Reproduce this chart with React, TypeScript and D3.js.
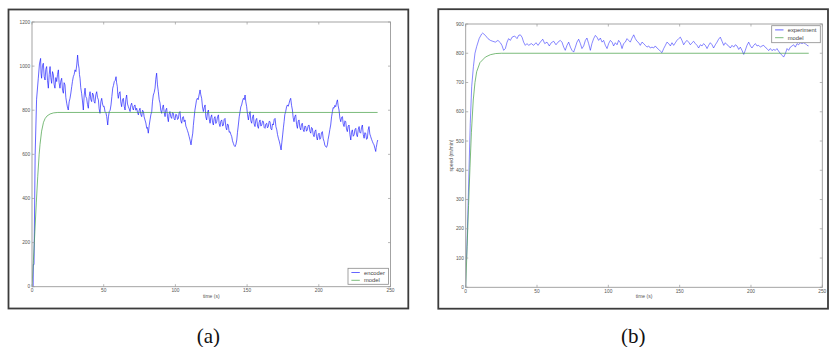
import React from "react";
import * as d3 from "d3";

// ---- data -------------------------------------------------------------

const TIME_TICKS = [0, 50, 100, 150, 200, 250];
const ENCODER_SPEED_TICKS = [0, 200, 400, 600, 800, 1000, 1200];
const EXPERIMENT_SPEED_TICKS = [0, 100, 200, 300, 400, 500, 600, 700, 800, 900];

// (a) encoder reading vs. time [s, speed]
const encoderSeries: [number, number][] = [
  [0, 0], [0.8, 0], [0.9, 100], [1.4, 100], [2.2, 600], [3.2, 850],
  [4.4, 945], [5.2, 1010], [6.0, 1035], [6.3, 968], [6.7, 945], [7.3, 1002], [7.9, 1013],
  [8.5, 952], [9.1, 937], [9.6, 985], [10.2, 998], [10.8, 935], [11.4, 900], [12.0, 962],
  [12.6, 998], [13.1, 948], [13.7, 922], [14.3, 975], [14.9, 960], [15.4, 918], [16.0, 900],
  [16.6, 948], [17.2, 930], [17.8, 962], [18.4, 983], [18.9, 925], [19.5, 900], [20.1, 932],
  [20.7, 945], [21.3, 890], [21.9, 877], [22.4, 925], [23.0, 915], [23.6, 858], [24.2, 832],
  [24.7, 815], [25.3, 801], [25.9, 838], [26.5, 854], [27.1, 878], [27.7, 907], [28.2, 930],
  [28.8, 952], [29.4, 962], [30.0, 983], [30.6, 975], [31.2, 1005], [31.8, 1050], [32.3, 1010],
  [32.8, 990], [33.1, 962], [33.5, 945], [34.0, 902], [34.6, 877], [35.2, 842], [35.8, 801],
  [36.4, 868], [37.0, 900], [37.5, 862], [38.1, 854], [38.7, 826], [39.3, 809], [39.9, 862],
  [40.5, 884], [41.0, 850], [41.6, 839], [42.2, 878], [42.8, 869], [43.3, 840], [43.9, 832],
  [44.5, 870], [45.1, 884], [45.7, 858], [46.3, 847], [46.8, 808], [47.4, 786], [48.0, 838],
  [48.6, 854], [49.2, 828], [49.8, 816], [50.3, 818], [50.9, 794], [51.5, 790], [52.1, 771],
  [52.4, 755], [52.8, 733], [53.3, 770], [53.9, 794], [54.5, 800], [55.1, 824], [55.7, 862],
  [56.3, 900], [56.8, 912], [57.4, 930], [58.0, 935], [58.6, 952], [59.0, 925], [59.5, 907],
  [59.8, 872], [60.2, 854], [60.8, 878], [61.4, 884], [61.9, 838], [62.5, 816], [63.1, 848],
  [63.7, 854], [64.3, 818], [64.9, 801], [65.4, 848], [66.0, 869], [66.6, 828], [67.2, 816],
  [67.8, 806], [68.4, 794], [68.9, 822], [69.5, 832], [70.1, 812], [70.7, 801], [71.2, 818],
  [71.8, 824], [72.4, 800], [73.0, 809], [73.6, 790], [74.2, 779], [74.7, 798], [75.3, 809],
  [75.9, 780], [76.5, 771], [77.1, 800], [77.7, 794], [78.2, 770], [78.8, 756], [79.4, 742],
  [80.0, 718], [80.5, 722], [81.1, 696], [81.7, 730], [82.3, 756], [82.9, 780], [83.5, 794],
  [84.0, 838], [84.6, 869], [85.2, 880], [85.8, 900], [86.3, 940], [86.9, 968], [87.5, 915],
  [88.1, 884], [88.7, 848], [89.3, 832], [89.8, 800], [90.4, 786], [91.0, 812], [91.6, 824],
  [92.2, 790], [92.8, 771], [93.3, 800], [93.9, 809], [94.5, 770], [95.1, 748], [95.6, 782],
  [96.2, 794], [96.8, 770], [97.4, 763], [98.0, 790], [98.6, 786], [99.1, 762], [99.7, 756],
  [100.3, 782], [100.9, 779], [101.5, 758], [102.1, 763], [102.6, 788], [103.2, 794], [103.8, 752],
  [104.4, 741], [105.0, 768], [105.6, 771], [106.1, 748], [106.7, 756], [107.3, 728], [107.9, 718],
  [108.4, 708], [109.0, 696], [109.6, 680], [110.2, 665], [110.9, 643], [111.5, 672], [112.1, 696],
  [112.5, 730], [113.0, 763], [113.6, 800], [114.2, 824], [114.7, 845], [115.3, 854], [115.9, 848],
  [116.5, 869], [117.2, 892], [117.7, 870], [118.3, 854], [118.9, 815], [119.5, 794], [120.1, 812],
  [120.7, 824], [121.2, 770], [121.8, 756], [122.4, 790], [123.0, 801], [123.6, 760], [124.2, 741],
  [124.7, 768], [125.3, 779], [125.9, 745], [126.5, 733], [127.0, 762], [127.6, 771], [128.2, 740],
  [128.8, 748], [129.4, 770], [130.0, 779], [130.5, 740], [131.1, 726], [131.7, 750], [132.3, 756],
  [132.9, 728], [133.5, 733], [134.0, 758], [134.6, 763], [135.2, 722], [135.8, 711], [136.3, 738],
  [136.9, 733], [137.5, 700], [138.1, 703], [138.7, 690], [139.3, 680], [139.8, 662], [140.4, 650],
  [141.0, 640], [141.6, 635], [142.2, 645], [142.8, 665], [143.3, 700], [143.9, 733], [144.5, 770],
  [145.1, 794], [145.6, 815], [146.2, 824], [146.8, 842], [147.4, 854], [148.0, 848], [148.6, 869],
  [149.1, 838], [149.7, 816], [150.3, 780], [150.9, 756], [151.5, 782], [152.1, 794], [152.6, 752],
  [153.2, 741], [153.8, 770], [154.4, 779], [154.9, 738], [155.5, 726], [156.1, 755], [156.7, 763],
  [157.3, 728], [157.9, 718], [158.4, 745], [159.0, 756], [159.6, 728], [160.2, 733], [160.8, 752],
  [161.4, 748], [161.9, 722], [162.5, 718], [163.1, 738], [163.7, 741], [164.2, 720], [164.8, 726],
  [165.4, 750], [166.0, 748], [166.6, 716], [167.2, 711], [167.7, 738], [168.3, 733], [168.9, 758],
  [169.5, 763], [170.1, 725], [170.7, 711], [171.2, 690], [171.8, 673], [172.4, 660], [173.0, 643],
  [173.7, 620], [174.2, 652], [174.8, 688], [175.3, 720], [175.8, 748], [176.3, 780], [176.9, 794],
  [177.5, 815], [178.1, 824], [178.7, 818], [179.3, 832], [179.8, 845], [180.4, 854], [181.0, 822],
  [181.6, 801], [182.1, 768], [182.7, 748], [183.3, 772], [183.9, 779], [184.5, 735], [185.1, 718],
  [185.6, 748], [186.2, 756], [186.8, 722], [187.4, 711], [187.9, 735], [188.5, 741], [189.1, 712],
  [189.7, 703], [190.3, 728], [190.9, 726], [191.4, 705], [192.0, 711], [192.6, 730], [193.2, 733],
  [193.8, 705], [194.4, 696], [194.9, 722], [195.5, 718], [196.1, 690], [196.7, 680], [197.3, 705],
  [197.9, 711], [198.4, 680], [199.0, 665], [199.6, 690], [200.2, 696], [200.7, 668], [201.3, 673],
  [201.9, 698], [202.5, 703], [203.1, 670], [203.7, 658], [204.2, 642], [204.8, 635], [205.4, 632],
  [206.0, 643], [206.5, 668], [207.1, 688], [207.7, 712], [208.3, 733], [208.9, 770], [209.5, 794],
  [210.0, 812], [210.6, 809], [211.2, 822], [211.8, 816], [212.4, 835], [213.0, 847], [213.5, 820],
  [214.1, 801], [214.7, 765], [215.3, 748], [215.9, 768], [216.5, 771], [217.0, 738], [217.6, 726],
  [218.2, 752], [218.8, 748], [219.3, 715], [219.9, 703], [220.5, 728], [221.1, 733], [221.7, 690],
  [222.3, 665], [222.8, 700], [223.4, 711], [224.0, 682], [224.6, 688], [225.2, 712], [225.8, 718],
  [226.3, 690], [226.9, 680], [227.5, 712], [228.1, 726], [228.6, 700], [229.2, 696], [229.8, 722],
  [230.4, 733], [231.0, 690], [231.6, 673], [232.1, 698], [232.7, 696], [233.3, 668], [233.9, 673],
  [234.4, 710], [235.0, 726], [235.6, 692], [236.2, 680], [236.8, 668], [237.4, 658], [237.9, 650],
  [238.5, 643], [239.1, 628], [239.7, 613], [240.0, 630], [240.4, 643], [240.7, 655], [241.1, 665],
];

// (a) model response
const modelSeriesA: [number, number][] = [
  [0, 0], [1, 120], [2, 250], [3, 380], [4, 500], [5, 600], [5.6, 645], [6.7, 705],
  [8, 745], [9.1, 762], [10.5, 774], [12.6, 783], [15, 788], [18, 790], [241, 790],
];

// (b) measured speed [s, m/min]
const experimentSeries: [number, number][] = [
  [0, 0], [0.1, 90], [0.6, 100], [1.5, 250], [2.5, 435], [3.2, 560], [4.2, 686],
  [5.4, 754], [6.5, 800], [7.7, 823], [9.5, 851], [11.2, 866], [11.9, 869],
  [13.8, 861], [15.6, 850], [17.3, 844], [18.9, 841], [20.8, 838], [22.6, 844],
  [24.3, 836], [25.4, 827], [26.6, 810], [27.8, 816], [29.0, 838], [30.1, 850],
  [31.3, 844], [32.5, 855], [34.3, 859], [36.0, 850], [37.1, 861], [38.3, 863],
  [39.5, 855], [40.6, 838], [41.8, 827], [43.0, 833], [44.1, 827], [46.0, 833],
  [47.6, 827], [49.3, 836], [50.7, 827], [52.3, 838], [54.0, 848], [55.4, 833],
  [57.0, 838], [58.6, 825], [60.0, 836], [61.7, 841], [63.3, 829], [64.7, 838],
  [66.3, 844], [67.5, 838], [68.7, 821], [69.8, 810], [71.0, 827], [72.2, 838],
  [73.4, 821], [74.5, 810], [75.7, 804], [76.9, 821], [78.0, 838], [79.2, 848],
  [80.4, 833], [81.5, 816], [82.7, 825], [83.9, 844], [85.0, 852], [86.2, 833],
  [87.4, 810], [88.5, 833], [89.7, 850], [90.9, 861], [92.0, 855], [93.2, 844],
  [94.4, 852], [95.6, 838], [96.7, 844], [97.9, 827], [99.1, 816], [100.2, 833],
  [101.4, 844], [102.6, 838], [103.7, 825], [104.9, 836], [106.1, 829], [107.2, 844],
  [108.4, 836], [109.6, 816], [110.7, 833], [111.9, 838], [113.1, 850], [114.2, 844],
  [115.4, 838], [116.6, 852], [117.8, 863], [118.9, 850], [120.1, 841], [121.3, 836],
  [122.4, 827], [123.6, 838], [124.8, 833], [125.9, 827], [127.1, 821], [128.3, 825],
  [129.4, 818], [130.6, 821], [131.8, 818], [132.9, 825], [134.1, 818], [135.3, 813],
  [136.5, 807], [137.6, 802], [138.8, 816], [140.0, 827], [141.1, 838], [142.3, 833],
  [143.5, 825], [144.6, 836], [145.8, 827], [147.0, 836], [148.1, 844], [149.3, 850],
  [150.5, 855], [151.6, 844], [152.8, 829], [154.0, 838], [155.1, 844], [156.3, 838],
  [157.5, 829], [158.7, 836], [159.8, 841], [161.0, 833], [162.2, 827], [163.3, 818],
  [164.5, 829], [165.7, 825], [166.8, 833], [168.0, 827], [169.2, 816], [170.3, 827],
  [171.5, 836], [172.7, 829], [173.8, 818], [175.0, 829], [176.2, 838], [177.3, 848],
  [178.5, 855], [179.7, 841], [180.9, 827], [182.0, 836], [183.2, 829], [184.4, 825],
  [185.5, 818], [186.7, 827], [187.9, 821], [189.0, 829], [190.2, 825], [191.4, 813],
  [192.5, 821], [193.7, 810], [194.9, 796], [196.0, 810], [197.2, 827], [198.4, 838],
  [199.6, 825], [200.7, 818], [201.9, 827], [203.1, 833], [204.2, 825], [205.4, 827],
  [206.6, 821], [207.7, 825], [208.9, 827], [210.1, 820], [211.2, 816], [212.4, 809],
  [213.6, 816], [214.7, 809], [215.9, 813], [217.1, 810], [218.2, 816], [219.4, 807],
  [220.6, 799], [221.8, 793], [222.9, 787], [224.1, 799], [225.3, 816], [226.4, 810],
  [227.6, 821], [228.8, 825], [229.9, 829], [231.1, 821], [232.3, 833], [233.4, 829],
  [234.6, 836], [235.8, 833], [236.9, 836], [238.1, 833], [239.3, 827], [240.4, 825],
];

// (b) model response
const modelSeriesB: [number, number][] = [
  [0, 0], [1, 140], [2, 280], [3, 410], [4, 530], [5.3, 640], [6.5, 700], [7.7, 737],
  [10, 768], [13.8, 787], [17.3, 795], [21, 799], [25, 800], [240.5, 800],
];

// ---- drawing ----------------------------------------------------------

const BLUE = "#1a1aff";
const GREEN = "#3a9a3a";
const SANS = "'Liberation Sans', Arial, sans-serif";

type Box = { x0: number; y0: number; x1: number; y1: number };
type Series = { data: [number, number][]; color: string; width: number; opacity: number; label: string };

function Panel(props: {
  id: string;
  frame: Box;
  plot: Box;
  yMax: number;
  yTicks: number[];
  series: Series[];
  legend: { x: number; y: number; w: number; h: number };
  yLabel?: string;
  caption: string;
}) {
  const { id, frame, plot, yMax, yTicks, series, legend, yLabel, caption } = props;
  const x = d3.scaleLinear().domain([0, 250]).range([plot.x0, plot.x1]);
  const y = d3.scaleLinear().domain([0, yMax]).range([plot.y1, plot.y0]);
  const line = d3
    .line<[number, number]>()
    .x((d) => x(d[0]))
    .y((d) => y(d[1]));
  const tk = 2.5;
  const axisColor = "#9a9a9a";
  const textColor = "#555";
  const cx = (plot.x0 + plot.x1) / 2;
  const cy = (plot.y0 + plot.y1) / 2;

  return (
    <g>
      <rect
        x={frame.x0}
        y={frame.y0}
        width={frame.x1 - frame.x0}
        height={frame.y1 - frame.y0}
        fill="#fff"
        stroke="#3c3c3c"
        strokeWidth={1.8}
      />
      <clipPath id={`clip-${id}`}>
        <rect x={plot.x0} y={plot.y0} width={plot.x1 - plot.x0} height={plot.y1 - plot.y0} />
      </clipPath>
      <g clipPath={`url(#clip-${id})`}>
        {series.map((s) => (
          <path
            key={s.label}
            d={line(s.data) || ""}
            fill="none"
            stroke={s.color}
            strokeWidth={s.width}
            strokeOpacity={s.opacity}
            strokeLinejoin="round"
          />
        ))}
      </g>
      <rect
        x={plot.x0}
        y={plot.y0}
        width={plot.x1 - plot.x0}
        height={plot.y1 - plot.y0}
        fill="none"
        stroke={axisColor}
        strokeWidth={0.9}
      />
      {TIME_TICKS.map((t) => (
        <g key={`xt${t}`}>
          <line x1={x(t)} x2={x(t)} y1={plot.y1} y2={plot.y1 - tk} stroke={axisColor} strokeWidth={0.7} />
          <line x1={x(t)} x2={x(t)} y1={plot.y0} y2={plot.y0 + tk} stroke={axisColor} strokeWidth={0.7} />
          <text x={x(t)} y={plot.y1 + 5.6} fontSize={4.8} fill={textColor} textAnchor="middle" fontFamily={SANS}>
            {t}
          </text>
        </g>
      ))}
      {yTicks.map((v) => (
        <g key={`yt${v}`}>
          <line x1={plot.x0} x2={plot.x0 + tk} y1={y(v)} y2={y(v)} stroke={axisColor} strokeWidth={0.7} />
          <line x1={plot.x1} x2={plot.x1 - tk} y1={y(v)} y2={y(v)} stroke={axisColor} strokeWidth={0.7} />
          <text
            x={plot.x0 - 1.8}
            y={y(v) + 1.7}
            fontSize={4.8}
            fill={textColor}
            textAnchor="end"
            fontFamily={SANS}
          >
            {v}
          </text>
        </g>
      ))}
      <text x={cx} y={plot.y1 + 10.8} fontSize={5} fill={textColor} textAnchor="middle" fontFamily={SANS}>
        time (s)
      </text>
      {yLabel && (
        <text
          transform={`translate(${plot.x0 - 12.5},${cy}) rotate(-90)`}
          fontSize={5}
          fill={textColor}
          textAnchor="middle"
          fontFamily={SANS}
        >
          {yLabel}
        </text>
      )}
      <rect
        x={legend.x}
        y={legend.y}
        width={legend.w}
        height={legend.h}
        fill="#fff"
        stroke="#8a8a8a"
        strokeWidth={0.8}
      />
      {series.map((s, i) => {
        const ly = legend.y + 4.2 + i * 7.8;
        return (
          <g key={`lg${s.label}`}>
            <line
              x1={legend.x + 3.4}
              x2={legend.x + 11.8}
              y1={ly}
              y2={ly}
              stroke={s.color}
              strokeWidth={0.9}
              strokeOpacity={0.75}
            />
            <text x={legend.x + 16} y={ly + 2} fontSize={5.8} fill="#444" fontFamily={SANS}>
              {s.label}
            </text>
          </g>
        );
      })}
      <text
        x={(frame.x0 + frame.x1) / 2}
        y={343}
        fontSize={21}
        fill="#111"
        textAnchor="middle"
        fontFamily="'Liberation Serif', 'DejaVu Serif', serif"
      >
        {caption}
      </text>
    </g>
  );
}

export default function App() {
  return (
    <svg
      width={829}
      height={347}
      viewBox="0 0 829 347"
      style={{ position: "absolute", left: 0, top: 0, background: "#fff" }}
    >
      <rect x={0} y={0} width={829} height={347} fill="#fff" />
      <Panel
        id="a"
        frame={{ x0: 8.5, y0: 9.5, x1: 408.3, y1: 308.5 }}
        plot={{ x0: 32, y0: 22, x1: 390.5, y1: 286.7 }}
        yMax={1200}
        yTicks={ENCODER_SPEED_TICKS}
        series={[
          { data: encoderSeries, color: BLUE, width: 0.75, opacity: 0.9, label: "encoder" },
          { data: modelSeriesA, color: GREEN, width: 0.9, opacity: 0.75, label: "model" },
        ]}
        legend={{ x: 348, y: 268.3, w: 40.5, h: 16 }}
        caption="(a)"
      />
      <Panel
        id="b"
        frame={{ x0: 438.3, y0: 9.2, x1: 828, y1: 308.7 }}
        plot={{ x0: 465.7, y0: 24, x1: 822.3, y1: 287.3 }}
        yMax={900}
        yTicks={EXPERIMENT_SPEED_TICKS}
        series={[
          { data: experimentSeries, color: BLUE, width: 0.7, opacity: 0.75, label: "experiment" },
          { data: modelSeriesB, color: GREEN, width: 0.9, opacity: 0.75, label: "model" },
        ]}
        legend={{ x: 771.7, y: 25.7, w: 48.6, h: 17 }}
        yLabel="speed (m/min)"
        caption="(b)"
      />
    </svg>
  );
}
